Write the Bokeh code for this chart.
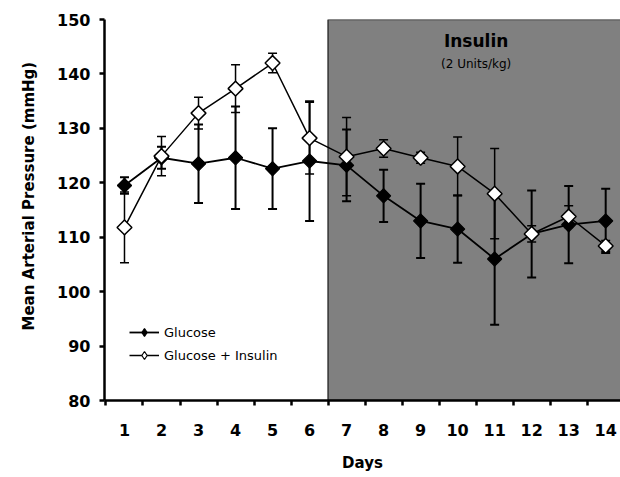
import math
from bokeh.plotting import figure
from bokeh.models import (Range1d, FixedTicker, ColumnDataSource, Whisker, TeeHead,
                          Legend, LegendItem, Title, CDSView, IndexFilter)
from bokeh.core.properties import value
from bokeh.embed import file_html
from bokeh.resources import INLINE

days = list(range(1, 15))
glucose = [119.5, 124.6, 123.5, 124.6, 122.6, 124.0, 123.2, 117.6, 113.0, 111.5, 106.0, 110.6, 112.3, 113.0]
glucose_err = [1.5, 2.0, 7.2, 9.4, 7.4, 11.0, 6.6, 4.8, 6.8, 6.2, 12.1, 8.0, 7.1, 5.9]
insulin = [111.8, 124.9, 132.8, 137.3, 142.0, 128.2, 124.8, 126.3, 124.6, 123.0, 118.0, 110.6, 113.8, 108.4]
insulin_err = [6.5, 3.6, 2.9, 4.4, 1.8, 6.6, 7.2, 1.6, 1.0, 5.4, 8.3, 1.5, 2.0, 1.0]
y_ticks = [80, 90, 100, 110, 120, 130, 140, 150]
insulin_start = 6.5
insulin_end = 14.5
series_names = ["Glucose", "Glucose + Insulin"]
y_title = "Mean Arterial Pressure (mmHg)"
x_title = "Days"

FONT = "DejaVu Sans"

p = figure(width=620, height=477, output_backend="svg", toolbar_location=None,
           x_range=Range1d(0.46, 14.4), y_range=Range1d(80, 150),
           min_border_left=102, min_border_right=0, min_border_top=19, min_border_bottom=77)
p.outline_line_color = None
p.xgrid.visible = False
p.ygrid.visible = False
p.background_fill_color = "white"
p.border_fill_color = "white"

# shaded insulin period
p.quad(left=[insulin_start], right=[insulin_end], bottom=[y_ticks[0]], top=[y_ticks[-1]],
       fill_color="#808080", line_color="#333333", line_width=1.5, level="image")

src_g = ColumnDataSource(dict(x=days, y=glucose,
                              lo=[v - e for v, e in zip(glucose, glucose_err)],
                              hi=[v + e for v, e in zip(glucose, glucose_err)]))
src_i = ColumnDataSource(dict(x=days, y=insulin,
                              lo=[v - e for v, e in zip(insulin, insulin_err)],
                              hi=[v + e for v, e in zip(insulin, insulin_err)]))

wg = Whisker(source=src_g, base="x", upper="hi", lower="lo", dimension="height",
             line_color="black", line_width=2, level="underlay",
             upper_head=TeeHead(size=9, line_width=2, line_color="black"),
             lower_head=TeeHead(size=9, line_width=2, line_color="black"))
wi = Whisker(source=src_i, base="x", upper="hi", lower="lo", dimension="height",
             line_color="black", line_width=1.5, level="underlay",
             upper_head=TeeHead(size=9, line_width=1.5, line_color="black"),
             lower_head=TeeHead(size=9, line_width=1.5, line_color="black"))
p.add_layout(wg)
p.add_layout(wi)

# legend-only diamond renderers: one point each, hidden beneath the real markers
lgm = p.scatter("x", "y", source=src_g, view=CDSView(filter=IndexFilter([0])),
                marker="diamond", size=14,
                fill_color="black", line_color="black", line_width=1.2)
lim = p.scatter("x", "y", source=src_i, view=CDSView(filter=IndexFilter([0])),
                marker="diamond", size=14,
                fill_color="white", line_color="black", line_width=1.2)

lg = p.line("x", "y", source=src_g, line_color="black", line_width=1.8)
li = p.line("x", "y", source=src_i, line_color="black", line_width=1.5)
p.scatter("x", "y", source=src_g, marker="square", angle=math.pi / 4, size=10,
          fill_color="black", line_color="black", line_width=1.2)
p.scatter("x", "y", source=src_i, marker="square", angle=math.pi / 4, size=10.5,
          fill_color="white", line_color="black", line_width=1.5)

legend = Legend(items=[LegendItem(label=series_names[0], renderers=[lg, lgm]),
                       LegendItem(label=series_names[1], renderers=[li, lim])],
                location=(25, 35), padding=0, margin=0, spacing=3,
                glyph_width=30, glyph_height=20, label_standoff=5,
                label_text_font=FONT, label_text_font_size="13px",
                label_text_color="black",
                border_line_color=None, background_fill_alpha=0)
p.add_layout(legend)

# x axis: labels at integers, ticks between days
xa = p.xaxis[0]
xa.ticker = FixedTicker(ticks=days, minor_ticks=[d + 0.5 for d in [0] + days])
xa.major_tick_out = 0
xa.major_tick_in = 0
xa.minor_tick_out = 5
xa.minor_tick_in = 0
xa.minor_tick_line_width = 2.5
xa.axis_line_width = 2.5
xa.major_label_text_font = FONT
xa.major_label_text_font_style = "bold"
xa.major_label_text_font_size = "16px"
xa.major_label_text_color = "black"
xa.major_label_standoff = 18
xa.axis_label = x_title
xa.axis_label_text_font = FONT
xa.axis_label_text_font_style = "bold"
xa.axis_label_text_font_size = "15px"
xa.axis_label_text_color = "black"
xa.axis_label_standoff = 15

ya = p.yaxis[0]
ya.ticker = FixedTicker(ticks=y_ticks, minor_ticks=[])
ya.major_tick_out = 5
ya.major_tick_in = 0
ya.major_tick_line_width = 2.5
ya.axis_line_width = 2.5
ya.major_label_text_font = FONT
ya.major_label_text_font_style = "bold"
ya.major_label_text_font_size = "16px"
ya.major_label_text_color = "black"
ya.major_label_standoff = 9

ytitle = Title(text=y_title, align="left", offset=70, standoff=34,
               text_font=FONT, text_font_style="bold", text_font_size="15px",
               text_color="black")
p.add_layout(ytitle, "left")

p.text(x=[(insulin_start + insulin_end) / 2], y=[146.1], text=["Insulin"],
       text_align="center", text_baseline="middle", text_font=value(FONT),
       text_font_style="bold", text_font_size="17px", text_color="black")
p.text(x=[(insulin_start + insulin_end) / 2], y=[141.9], text=["(2 Units/kg)"],
       text_align="center", text_baseline="middle", text_font=value(FONT),
       text_font_size="12px", text_color="black")

open("out.html", "w").write(file_html(p, INLINE))
